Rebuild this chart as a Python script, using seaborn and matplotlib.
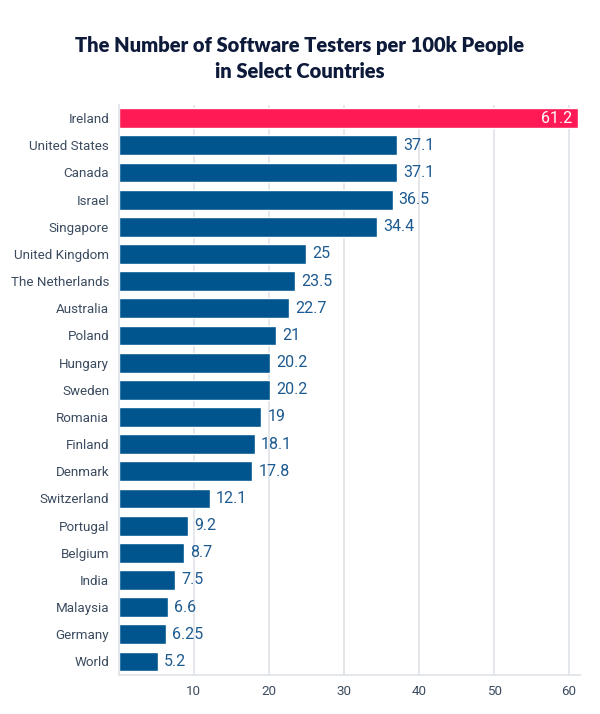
import matplotlib
matplotlib.use("Agg")
import matplotlib.pyplot as plt
import pandas as pd
import seaborn as sns

# Data
countries = [
    "Ireland", "United States", "Canada", "Israel", "Singapore",
    "United Kingdom", "The Netherlands", "Australia", "Poland", "Hungary",
    "Sweden", "Romania", "Finland", "Denmark", "Switzerland", "Portugal",
    "Belgium", "India", "Malaysia", "Germany", "World",
]
testers = [
    61.2, 37.1, 37.1, 36.5, 34.4, 25, 23.5, 22.7, 21, 20.2, 20.2,
    19, 18.1, 17.8, 12.1, 9.2, 8.7, 7.5, 6.6, 6.25, 5.2,
]
value_labels = [
    "61.2", "37.1", "37.1", "36.5", "34.4", "25", "23.5", "22.7", "21",
    "20.2", "20.2", "19", "18.1", "17.8", "12.1", "9.2", "8.7", "7.5",
    "6.6", "6.25", "5.2",
]
x_ticks = [0, 10, 20, 30, 40, 50, 60]
x_tick_labels = ["", "10", "20", "30", "40", "50", "60"]

BLUE = "#00558f"
PINK = "#ff1a55"
TEXT = "#3b4b5f"
GRID = "#dfe4ea"

df = pd.DataFrame({"country": countries, "testers": testers})
palette = {c: (PINK if c == "Ireland" else BLUE) for c in countries}

sns.set_theme(style="white")
plt.rcParams["font.family"] = ["Roboto", "DejaVu Sans"]

fig = plt.figure(figsize=(6, 7.14), dpi=100)
ax = fig.add_axes([0.198, 0.0546, 0.768, 0.799])

sns.barplot(
    data=df, x="testers", y="country", hue="country", palette=palette,
    order=countries, width=0.73, saturation=1, legend=False, ax=ax, zorder=2,
)

ax.set_xlim(0, 61.4)
ax.set_xticks(x_ticks)
ax.set_xticklabels(x_tick_labels)
ax.set_xlabel("")
ax.set_ylabel("")
ax.grid(axis="x", color=GRID, linewidth=1.2, zorder=0)
ax.set_axisbelow(True)
for side in ["top", "right"]:
    ax.spines[side].set_visible(False)
ax.spines["bottom"].set_color(GRID)
ax.spines["bottom"].set_linewidth(1.2)
ax.spines["left"].set_color(GRID)
ax.spines["left"].set_linewidth(1.2)
ax.tick_params(axis="both", length=0, colors=TEXT, labelsize=9.6)
ax.tick_params(axis="y", pad=7)
ax.tick_params(axis="x", pad=7)

for i, (val, lab) in enumerate(zip(testers, value_labels)):
    if i == 0:
        ax.text(val - 0.8, i, lab, ha="right", va="center",
                color="white", fontsize=11.5)
    else:
        ax.text(val + 0.8, i, lab, ha="left", va="center",
                color="#1d5a90", fontsize=11.5)

fig.text(0.5, 0.918, "The Number of Software Testers per 100k People\nin Select Countries",
         ha="center", va="center", fontsize=14.5, fontweight="heavy",
         color="#0d1a3a", family=["Lato", "DejaVu Sans"], linespacing=1.45)

fig.savefig("out.png", dpi=100, facecolor="white")
